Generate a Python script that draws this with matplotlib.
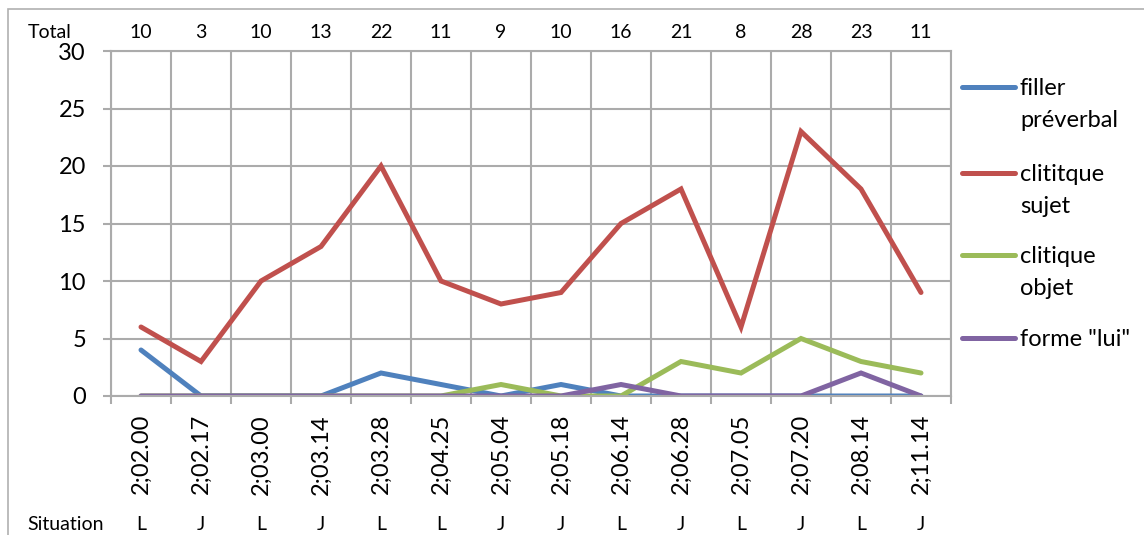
import numpy as np
import matplotlib
matplotlib.use("Agg")
import matplotlib.pyplot as plt
from matplotlib.lines import Line2D
from matplotlib.patches import Rectangle
import matplotlib.transforms as mtransforms

plt.rcParams['font.family'] = ['Lato', 'DejaVu Sans']

# data
dates = ['2;02.00', '2;02.17', '2;03.00', '2;03.14', '2;03.28', '2;04.25', '2;05.04',
         '2;05.18', '2;06.14', '2;06.28', '2;07.05', '2;07.20', '2;08.14', '2;11.14']
totals = [10, 3, 10, 13, 22, 11, 9, 10, 16, 21, 8, 28, 23, 11]
situation = ['L', 'J', 'L', 'J', 'L', 'L', 'J', 'J', 'L', 'J', 'L', 'J', 'L', 'J']
filler = [4, 0, 0, 0, 2, 1, 0, 1, 0, 0, 0, 0, 0, 0]
sujet = [6, 3, 10, 13, 20, 10, 8, 9, 15, 18, 6, 23, 18, 9]
objet = [0, 0, 0, 0, 0, 0, 1, 0, 0, 3, 2, 5, 3, 2]
lui = [0, 0, 0, 0, 0, 0, 0, 0, 1, 0, 0, 0, 2, 0]

series = [
    ('filler\npréverbal', filler, '#4F81BD'),
    ('clititque\nsujet', sujet, '#C0504D'),
    ('clitique\nobjet', objet, '#9BBB59'),
    ('forme "lui"', lui, '#8064A2'),
]

W, H = 1144, 535
grid_col = '#ABABAB'

fig = plt.figure(figsize=(W / 100, H / 100), dpi=100)


def fx(px):
    return px / W


def fy(py):
    return 1 - py / H


# outer chart border (cut on right and bottom)
fig.add_artist(Rectangle((fx(8), -0.1), 1.2, fy(9) + 0.1, transform=fig.transFigure,
                         fill=False, edgecolor='#B0B0B0', lw=1.2))

ax = fig.add_axes([fx(111), fy(396), fx(951) - fx(111), fy(51) - fy(396)])

x = np.arange(len(dates)) + 0.5
for label, vals, col in series:
    ax.plot(x, vals, color=col, lw=3.6, solid_capstyle='round', solid_joinstyle='miter')

ax.set_xlim(0, len(dates))
ax.set_ylim(0, 30)

ax.set_yticks(np.arange(0, 31, 5))
ax.tick_params(axis='y', length=6, width=1.5, color=grid_col, pad=12, labelsize=17)
ax.set_xticks(np.arange(0, len(dates) + 1))
ax.set_xticklabels([])
ax.tick_params(axis='x', which='major', length=6, width=1.5, color=grid_col)
ax.set_xticks(x, minor=True)
ax.set_xticklabels(dates, minor=True, rotation=90, fontsize=17)
ax.tick_params(axis='x', which='minor', length=0, pad=13)

ax.grid(True, which='major', color=grid_col, lw=1.5)
ax.set_axisbelow(True)
for s in ax.spines.values():
    s.set_color(grid_col)
    s.set_linewidth(1.5)

# table rows above and below
trans = mtransforms.blended_transform_factory(ax.transData, fig.transFigure)
fig.text(fx(28), fy(38), 'Total', fontsize=14, va='baseline', ha='left')
for xi, t in zip(x, totals):
    ax.text(xi, fy(38), str(t), transform=trans, fontsize=14, ha='center', va='baseline')
fig.text(fx(27), fy(530), 'Situation', fontsize=14, va='baseline', ha='left')
for xi, s in zip(x, situation):
    ax.text(xi, fy(530), s, transform=trans, fontsize=14, ha='center', va='baseline')

# legend
leg_y = [87, 173, 255, 338]
for (label, vals, col), ly in zip(series, leg_y):
    fig.add_artist(Line2D([fx(962), fx(1015)], [fy(ly), fy(ly)], transform=fig.transFigure,
                          color=col, lw=3.6, solid_capstyle='round'))
    for k, part in enumerate(label.split('\n')):
        fig.text(fx(1020), fy(ly + 8 + 32 * k), part, fontsize=17, va='baseline', ha='left')

fig.savefig('out.png', dpi=100)
